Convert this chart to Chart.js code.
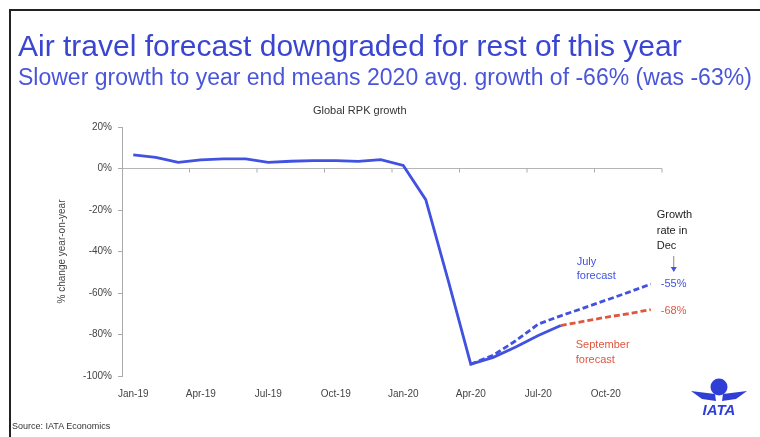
<!DOCTYPE html>
<html>
<head>
<meta charset="utf-8">
<script src="https://cdn.jsdelivr.net/npm/chart.js@4/dist/chart.umd.min.js"></script>
<style>
    html, body { margin: 0; padding: 0; background: #fff; }
    #frame { position: relative; width: 760px; height: 437px; overflow: hidden; font-family: "Liberation Sans", Arial, sans-serif; }
    #frame .edge { position: absolute; left: 9px; top: 9px; width: 900px; height: 600px; border-left: 2px solid #222; border-top: 2px solid #222; }
    #frame canvas { position: absolute; left: 0; top: 0; }
    .txt { position: absolute; white-space: nowrap; }
    #title { left: 18px; top: 29px; font-size: 30px; color: #3a46d2; letter-spacing: 0px; }
    #subtitle { left: 18px; top: 64px; font-size: 23px; color: #4a56da; letter-spacing: 0px; }
    #chartTitle { left: 313px; top: 104px; font-size: 11px; color: #333; }
    #source { left: 12px; top: 421px; font-size: 9px; color: #333; }
    #logo { position: absolute; left: 688px; top: 376px; }
</style>
</head>
<body>
<div id="frame">
    <div class="edge"></div>
    <canvas id="rpk-chart" width="760" height="437"></canvas>
    <div class="txt" id="title">Air travel forecast downgraded for rest of this year</div>
    <div class="txt" id="subtitle">Slower growth to year end means 2020 avg. growth of -66% (was -63%)</div>
    <div class="txt" id="chartTitle">Global RPK growth</div>
    <div class="txt" id="source">Source: IATA Economics</div>
    <svg id="logo" width="62" height="42" viewBox="0 0 62 42">
        <circle cx="31" cy="11" r="8.5" fill="#2f3fd6"/>
        <path d="M3 15 L27 18 L28 25 L14 23 Z" fill="#2f3fd6"/>
        <path d="M59 15 L35 18 L34 25 L48 23 Z" fill="#2f3fd6"/>
        <text x="31" y="39" text-anchor="middle" font-family="Liberation Sans, Arial" font-weight="bold" font-style="italic" font-size="15" fill="#2f3fd6">IATA</text>
    </svg>
</div>
<script>
// Months Jan-19 .. Dec-20
const months = ['Jan-19', 'Feb-19', 'Mar-19', 'Apr-19', 'May-19', 'Jun-19', 'Jul-19', 'Aug-19', 'Sep-19', 'Oct-19', 'Nov-19', 'Dec-19',
    'Jan-20', 'Feb-20', 'Mar-20', 'Apr-20', 'May-20', 'Jun-20', 'Jul-20', 'Aug-20', 'Sep-20', 'Oct-20', 'Nov-20', 'Dec-20'];

// % change year-on-year
const actualRpk = [6.6, 5.4, 3.0, 4.2, 4.6, 4.6, 3.0, 3.5, 3.8, 3.8, 3.4, 4.3,
    1.5, -15.0, -54.0, -94.3, -91.0, -86.0, -80.5, -75.7, null, null, null, null];
const julyForecast = [null, null, null, null, null, null, null, null, null, null, null, null,
    null, null, null, -94.3, -90.0, -83.0, -75.0, -71.0, -67.3, -63.5, -59.7, -55.7];
const septForecast = [null, null, null, null, null, null, null, null, null, null, null, null,
    null, null, null, null, null, null, null, -75.7, -73.7, -71.7, -70.0, -68.0];

const yTicks = [20, 0, -20, -40, -60, -80, -100];
const decLabels = ['-55%', '-68%'];

const BLUE = '#4151e0';
const RED = '#e0563f';

// small tick marks hanging under the 0% line, every 3 months
const zeroTicks = {
    id: 'zeroTicks',
    afterDraw(chart) {
        const xs = chart.scales.x, ys = chart.scales.y;
        const ctx = chart.ctx;
        const y0 = ys.getPixelForValue(0);
        ctx.save();
        ctx.strokeStyle = '#aaa';
        ctx.lineWidth = 1;
        for (let i = 3; i <= months.length; i += 3) {
            const x = i < months.length
                ? (xs.getPixelForValue(i - 1) + xs.getPixelForValue(i)) / 2
                : xs.right;
            ctx.beginPath();
            ctx.moveTo(x, y0);
            ctx.lineTo(x, y0 + 4);
            ctx.stroke();
        }
        ctx.restore();
    }
};

// text notes next to the forecasts
const notes = {
    id: 'notes',
    afterDraw(chart) {
        const xs = chart.scales.x, ys = chart.scales.y;
        const ctx = chart.ctx;
        const last = months.length - 1;
        const xDec = xs.getPixelForValue(last);
        const yJul = ys.getPixelForValue(julyForecast[last]);
        const ySep = ys.getPixelForValue(septForecast[last]);
        const xAug = xs.getPixelForValue(19);
        ctx.save();
        ctx.font = '11px "Liberation Sans", Arial';
        ctx.textBaseline = 'middle';
        ctx.textAlign = 'left';

        ctx.fillStyle = BLUE;
        ctx.fillText(decLabels[0], xDec + 10, yJul);
        ctx.fillText('July', xAug + 16, yJul - 22);
        ctx.fillText('forecast', xAug + 16, yJul - 8);

        ctx.fillStyle = RED;
        ctx.fillText(decLabels[1], xDec + 10, ySep + 1);
        ctx.fillText('September', xAug + 15, ySep + 35);
        ctx.fillText('forecast', xAug + 15, ySep + 50);

        ctx.fillStyle = '#222';
        ctx.fillText('Growth', xDec + 6, yJul - 69);
        ctx.fillText('rate in', xDec + 6, yJul - 53);
        ctx.fillText('Dec', xDec + 6, yJul - 38);

        // small arrow down to the Dec values
        ctx.strokeStyle = '#888';
        ctx.lineWidth = 1;
        ctx.beginPath();
        ctx.moveTo(xDec + 23, yJul - 28);
        ctx.lineTo(xDec + 23, yJul - 16);
        ctx.stroke();
        ctx.fillStyle = BLUE;
        ctx.beginPath();
        ctx.moveTo(xDec + 20, yJul - 17);
        ctx.lineTo(xDec + 26, yJul - 17);
        ctx.lineTo(xDec + 23, yJul - 12);
        ctx.closePath();
        ctx.fill();
        ctx.restore();
    }
};

Chart.defaults.font.family = '"Liberation Sans", Arial, sans-serif';

new Chart(document.getElementById('rpk-chart'), {
    type: 'line',
    data: {
        labels: months,
        datasets: [{
            label: 'Actual',
            data: actualRpk,
            borderColor: BLUE,
            borderWidth: 2.8,
            pointRadius: 0,
            tension: 0
        }, {
            label: 'July forecast',
            data: julyForecast,
            borderColor: BLUE,
            borderWidth: 2.8,
            borderDash: [6, 3],
            pointRadius: 0,
            tension: 0
        }, {
            label: 'September forecast',
            data: septForecast,
            borderColor: RED,
            borderWidth: 2.8,
            borderDash: [6, 3],
            pointRadius: 0,
            tension: 0
        }]
    },
    options: {
        responsive: false,
        animation: false,
        layout: { padding: { top: 127, right: 98, left: 56, bottom: 0 } },
        plugins: {
            legend: { display: false },
            tooltip: { enabled: false }
        },
        scales: {
            x: {
                offset: true,
                grid: { display: false, drawTicks: false },
                border: { display: false },
                ticks: {
                    autoSkip: false,
                    maxRotation: 0,
                    padding: 12,
                    color: '#444',
                    font: { size: 10 },
                    callback: function (value, index) {
                        return index % 3 === 0 ? this.getLabelForValue(value) : '';
                    }
                },
                afterFit: (s) => { s.height = 61; }
            },
            y: {
                min: -100,
                max: 20,
                afterBuildTicks: (s) => { s.ticks = yTicks.map(v => ({ value: v })); },
                ticks: {
                    callback: (v) => v + '%',
                    color: '#444',
                    font: { size: 10 },
                    padding: 6
                },
                grid: {
                    color: (ctx) => (ctx.tick && ctx.tick.value === 0) ? '#b5b5b5' : 'rgba(0,0,0,0)',
                    tickColor: '#aaa',
                    tickLength: 4
                },
                border: { display: true, color: '#aaa' },
                title: {
                    display: true,
                    text: '% change year-on-year',
                    color: '#444',
                    font: { size: 10 },
                    padding: 0
                },
                afterFit: (s) => { s.width = 66; }
            }
        }
    },
    plugins: [zeroTicks, notes]
});
</script>
</body>
</html>
